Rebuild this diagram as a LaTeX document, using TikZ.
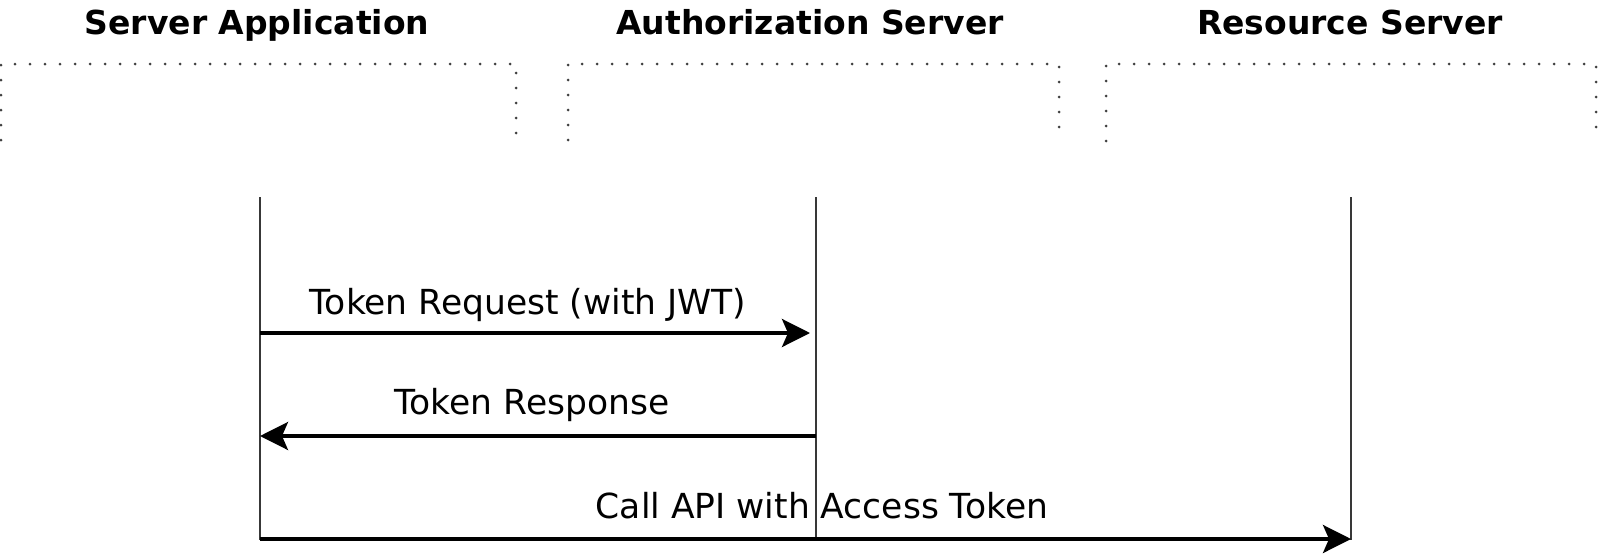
\documentclass[tikz,border=0pt]{standalone}
\usepackage{fontspec}
\setmainfont{DejaVu Sans}
\usetikzlibrary{arrows.meta}
\begin{document}
\begin{tikzpicture}[x=1pt,y=-1pt,
  title/.style={font=\fontsize{33}{36}\selectfont\bfseries, anchor=base, inner sep=0pt},
  lbl/.style={font=\fontsize{34.5}{38}\selectfont, anchor=base, inner sep=0pt},
  bracketline/.style={draw=black!75, line width=3pt, dash pattern=on 0pt off 15pt, line cap=round},
  lifeline/.style={draw=black!78, line width=2.8pt},
  msg/.style={draw=black, line width=3.4pt, -{Stealth[length=28pt,width=28pt,inset=6pt]}}]
\useasboundingbox (0,0) rectangle (1598,554);
% titles
\node[title] (t1) at (257,34) {Server Application};
\node[title] (t2) at (810,34) {Authorization Server};
\node[title] (t3) at (1350,34) {Resource Server};
% dotted brackets
\draw[bracketline] (1,140) -- (1,64) -- (516,64) -- (516,136);
\draw[bracketline] (568,140) -- (568,64) -- (1059,64) -- (1059,130);
\draw[bracketline] (1106,141) -- (1106,64) -- (1596,64) -- (1596,130);
% lifelines
\coordinate (a0) at (260,197); \coordinate (a1) at (260,540);
\coordinate (b0) at (816,197); \coordinate (b1) at (816,540);
\coordinate (c0) at (1351,197); \coordinate (c1) at (1351,540);
\draw[lifeline] (a0) -- (a1);
\draw[lifeline] (b0) -- (b1);
\draw[lifeline] (c0) -- (c1);
% messages
\coordinate (m1s) at (260,333); \coordinate (m1e) at (810,333);
\coordinate (m2s) at (816,436); \coordinate (m2e) at (260,436);
\coordinate (m3s) at (260,539); \coordinate (m3e) at (1351,539);
\draw[msg] (m1s) -- (m1e);
\draw[msg] (m2s) -- (m2e);
\draw[msg] (m3s) -- (m3e);
\node[lbl] (l1) at (528,314) {Token Request (with JWT)};
\node[lbl] (l2) at (532,414) {Token Response};
\node[lbl] (l3) at (822,518) {Call API with Access Token};
\end{tikzpicture}
\end{document}
